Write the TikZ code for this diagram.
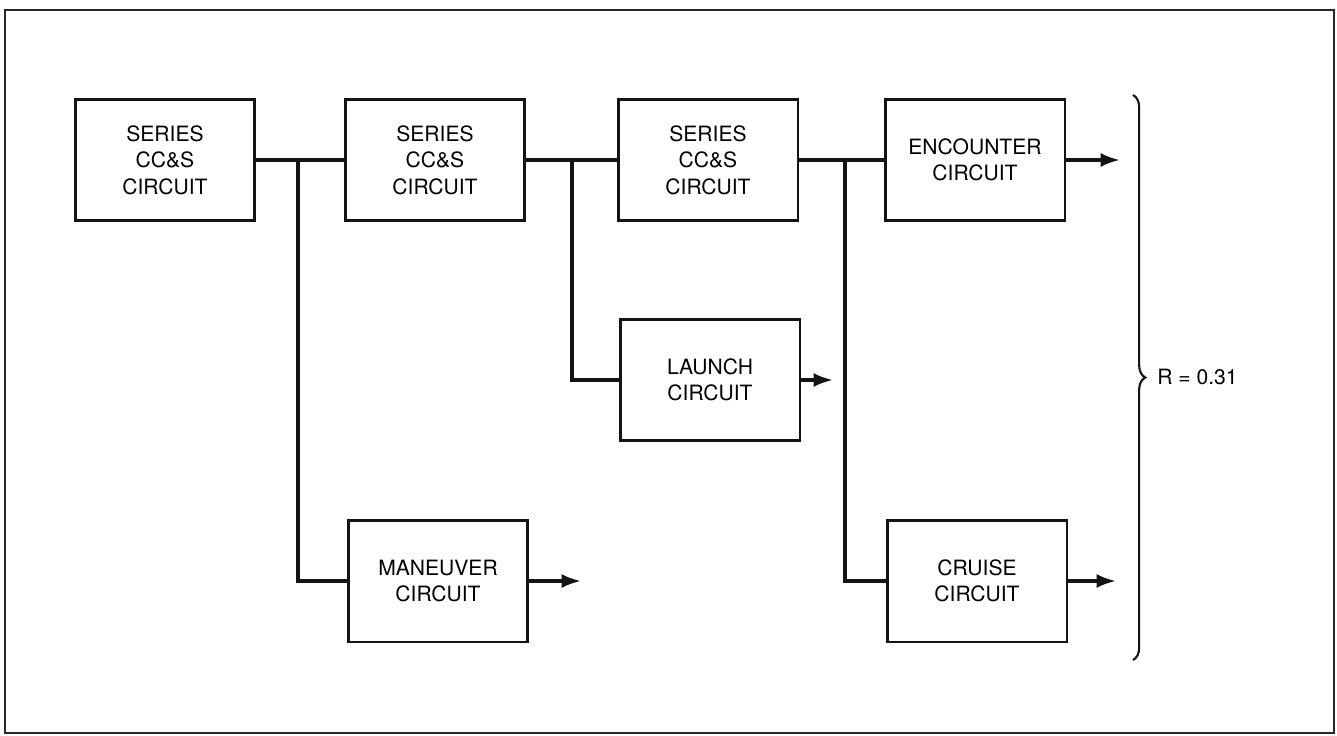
\documentclass[tikz,border=0pt]{standalone}
\usepackage{fontspec}
\setmainfont{TeX Gyre Heros}
\usepackage{tikz}
\usetikzlibrary{arrows.meta,calc,decorations.pathreplacing}
\definecolor{InkLine}{RGB}{20,20,20}
\definecolor{FrameLine}{RGB}{40,40,40}
\tikzset{
  nd_blk/.style={
    rectangle, draw=InkLine, line width=1.7pt, fill=white,
    minimum width=3.6cm, minimum height=2.44cm,
    align=center, inner sep=2pt,
    font=\fontsize{12}{15}\selectfont},
  wire/.style={draw=InkLine, line width=1.9pt},
  arr/.style={wire, -{Latex[length=11pt,width=8pt]}},
  brc/.style={draw=InkLine, line width=1.2pt,
    decorate, decoration={brace, amplitude=7pt}},
  lbl/.style={font=\fontsize{12}{15}\selectfont, anchor=west, inner sep=0pt},
}
\begin{document}
\begin{tikzpicture}[x=0.02cm,y=-0.02cm]

%% page size + outer frame
\useasboundingbox (0,0) rectangle (1337,736);
\draw[FrameLine, line width=1.1pt] (5,10) rectangle (1334,733);

%% rows: top | launch | bottom
\def\rT{160}\def\rL{380}\def\rB{581}

%% series chain
\node[nd_blk] at (165,\rT) (S1){SERIES\\CC\&S\\CIRCUIT};
\node[nd_blk] at (435,\rT) (S2){SERIES\\CC\&S\\CIRCUIT};
\node[nd_blk] at (708,\rT) (S3){SERIES\\CC\&S\\CIRCUIT};
\node[nd_blk] at (975,\rT) (ENC){ENCOUNTER\\CIRCUIT};

%% branches
\node[nd_blk] at (710,\rL) (LAU){LAUNCH\\CIRCUIT};
\node[nd_blk] at (438,\rB) (MAN){MANEUVER\\CIRCUIT};
\node[nd_blk] at (977,\rB) (CRU){CRUISE\\CIRCUIT};

%% junctions and free arrow ends
\coordinate (J1) at (298,\rT);
\coordinate (J2) at (572,\rT);
\coordinate (J3) at (845,\rT);
\coordinate (oENC) at (1120,\rT);
\coordinate (oLAU) at (833,\rL);
\coordinate (oMAN) at (581,\rB);
\coordinate (oCRU) at (1116,\rB);

%% wires
\draw[wire] (S1)--(S2); \draw[wire] (S2)--(S3); \draw[wire] (S3)--(ENC);
\draw[wire] (J1) |- (MAN.west);
\draw[wire] (J2) |- (LAU.west);
\draw[wire] (J3) |- (CRU.west);

\draw[arr] (ENC.east)--(oENC);
\draw[arr] (LAU.east)--(oLAU);
\draw[arr] (MAN.east)--(oMAN);
\draw[arr] (CRU.east)--(oCRU);

%% reliability brace
\draw[brc] (1133,95)--(1133,660);
\node[lbl] at (1157,377) (R){R = 0.31};

\end{tikzpicture}
\end{document}
